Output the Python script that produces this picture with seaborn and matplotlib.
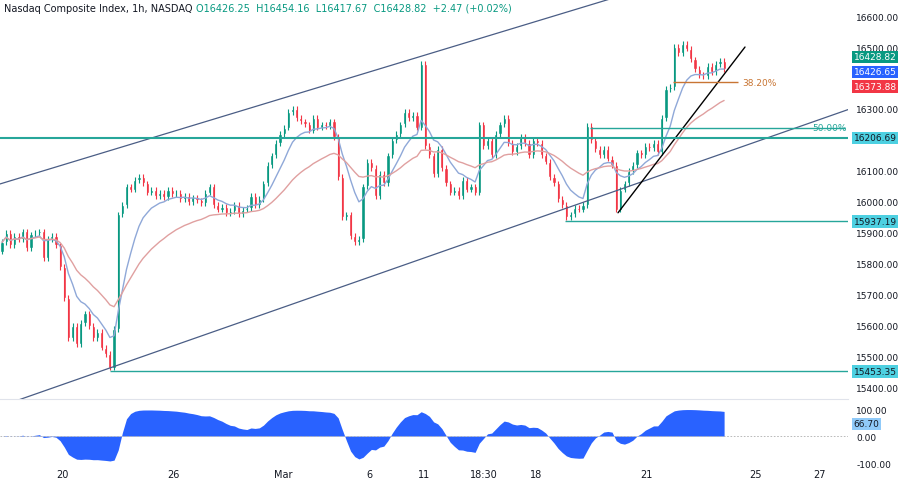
import numpy as np
import pandas as pd
import matplotlib.pyplot as plt
import seaborn as sns

# hourly closes
closes = [15870, 15900, 15860, 15890, 15880, 15905, 15850, 15895, 15900, 15905, 15820, 15880, 15890, 15860, 15790,
          15690, 15560, 15600, 15540, 15610, 15640, 15600, 15560, 15580, 15530, 15510, 15465,
          15590, 15960, 15990, 16050, 16040, 16070,
          16080, 16060, 16030, 16040, 16020, 16030, 16015, 16040, 16025, 16030, 16010, 16020, 16000, 16015, 16005,
          15995, 16030, 16050, 15990, 15975, 15985, 15965, 15970, 15990, 15960, 15975, 15980, 16020, 15990, 16010,
          16060, 16120, 16150, 16190, 16220, 16240, 16290, 16300, 16270,
          16260, 16250, 16230, 16270, 16240, 16250, 16245, 16260, 16210,
          16080, 15950, 15960, 15890, 15870, 15880,
          16050, 16130, 16110, 16020, 16090, 16060,
          16150, 16200, 16220, 16250, 16290, 16270, 16280, 16240,
          16445, 16180, 16150, 16090,
          16170, 16110, 16060, 16030, 16040, 16020, 16070, 16040, 16050, 16030,
          16250, 16180, 16200, 16150, 16220, 16250, 16270, 16190, 16160,
          16180, 16210, 16190, 16150, 16200, 16190, 16150, 16130, 16080, 16060,
          16010, 15990, 15950, 15960, 15980, 15975, 15990,
          16245, 16200, 16170, 16150, 16170, 16140, 16120, 15975,
          16040, 16060, 16100, 16120, 16160, 16150, 16180, 16175, 16190, 16160,
          16270, 16365, 16371,
          16500, 16480, 16510, 16495, 16460, 16430, 16410, 16405, 16440, 16420, 16445, 16455, 16428.82]
first_open = 15840
wick = 9

date_labels = ["20", "26", "Mar", "6", "11", "18:30", "18", "21", "25", "27"]
date_px = [62, 173, 283, 369, 424, 484, 536, 646, 756, 820]

price_ticks = [16600, 16500, 16300, 16100, 16000, 15900, 15800, 15700, 15600, 15500, 15400]
levels = [16206.69, 15937.19, 15453.35]

PX = 4.15  # pixels per bar
GREEN, RED, BLUE = "#089981", "#f23645", "#2962ff"

df = pd.DataFrame({"close": closes})
df["open"] = [first_open] + closes[:-1]
df["high"] = df[["open", "close"]].max(axis=1) + wick
df["low"] = df[["open", "close"]].min(axis=1) - wick
df["i"] = np.arange(len(df))
df["fast"] = df["close"].ewm(span=9).mean()
df["slow"] = df["close"].ewm(span=30).mean()
df["osc"] = 100 * np.tanh((df["fast"] - df["slow"]) / 66)

sns.set_style("white")
plt.rcParams["font.family"] = ["DejaVu Sans"]

fig = plt.figure(figsize=(9, 4.85), dpi=100)
W = 848 / 900
ax = fig.add_axes([0, 85 / 485, W, 400 / 485])
ax2 = fig.add_axes([0, 19 / 485, W, 66 / 485], sharex=ax)

up = df["close"] >= df["open"]
cols = np.where(up, GREEN, RED)
ax.vlines(df["i"], df["low"], df["high"], colors=cols, lw=0.8)
ax.bar(df["i"], (df["close"] - df["open"]).abs().clip(lower=2), bottom=df[["open", "close"]].min(axis=1),
       color=cols, width=0.75)
sns.lineplot(x=df["i"], y=df["fast"], ax=ax, color="#8fa8d8", lw=1)
sns.lineplot(x=df["i"], y=df["slow"], ax=ax, color="#e0a0a0", lw=1)

def bx(px):
    return (px - 2) / PX

xmax = bx(848)
ax.set_xlim(bx(0), xmax)
ax.set_ylim(15364, 16655)

# channel and trend lines
ax.plot([bx(0), bx(610)], [16600 - (185 - 17) / 0.31, 16655], color="#4a5d85", lw=0.9)
ax.plot([bx(0), bx(848)], [15340, 16298], color="#4a5d85", lw=0.9)
ax.plot([bx(618), bx(745)], [15965, 16500], color="black", lw=1)

ax.axhline(levels[0], color="#26a69a", lw=1.5)
ax.hlines(levels[1], bx(565), xmax, color="#26a69a", lw=1)
ax.hlines(levels[2], bx(110), xmax, color="#26a69a", lw=1)
ax.hlines(16240, bx(590), bx(845), color="#26a69a", lw=1)
ax.text(bx(812), 16240, "50.00%", color="#26a69a", fontsize=6.5, va="center")
ax.hlines(16387, bx(673), bx(738), color="#c87533", lw=1)
ax.text(bx(742), 16387, "38.20%", color="#c87533", fontsize=6.5, va="center")

ax.set_xlabel("")
ax.set_ylabel("")
ax.yaxis.tick_right()
ax.set_yticks(price_ticks)
ax.set_yticklabels([f"{p:.2f}" for p in price_ticks])
ax.tick_params(axis="y", length=0, labelsize=6.5, colors="#131722", pad=6)
ax.tick_params(axis="x", length=0, labelbottom=False)
for s in ax.spines.values():
    s.set_visible(False)

def tag(a, y, text, fc, tc="white"):
    a.annotate(text, xy=(1, y), xycoords=("axes fraction", "data"), xytext=(4, 0), textcoords="offset points",
               va="center", ha="left", fontsize=6.5, color=tc,
               bbox=dict(boxstyle="square,pad=0.2", fc=fc, ec="none"), annotation_clip=False)

tag(ax, 16468, "16428.82", GREEN)
tag(ax, 16420, "16426.65", BLUE)
tag(ax, 16372, "16373.88", RED)
for lv in levels:
    tag(ax, lv, f"{lv:.2f}", "#4dd0e1", "#131722")

fig.text(0.005, 0.982, "Nasdaq Composite Index, 1h, NASDAQ", fontsize=7, color="#131722", va="center")
fig.text(0.218, 0.982, "O16426.25  H16454.16  L16417.67  C16428.82  +2.47 (+0.02%)", fontsize=7,
         color=GREEN, va="center")

ax2.fill_between(df["i"], 0, df["osc"], color=BLUE, lw=0)
ax2.axhline(0, color="#b0b0b0", lw=0.6, ls=(0, (2, 2)))
ax2.set_ylim(-107, 137)
ax2.yaxis.tick_right()
ax2.set_yticks([100, 0, -100])
ax2.set_yticklabels(["100.00", "0.00", "-100.00"])
ax2.tick_params(axis="y", length=0, labelsize=6.5, colors="#131722", pad=6)
ax2.set_xticks([bx(p) for p in date_px])
ax2.set_xticklabels(date_labels)
ax2.tick_params(axis="x", length=0, labelsize=7, colors="#131722", pad=3)
for s in ax2.spines.values():
    s.set_visible(False)
ax2.spines["top"].set_visible(True)
ax2.spines["top"].set_color("#e0e3eb")
tag(ax2, 45, "66.70", "#90caf9", "#131722")

fig.savefig("out.png", dpi=100)
